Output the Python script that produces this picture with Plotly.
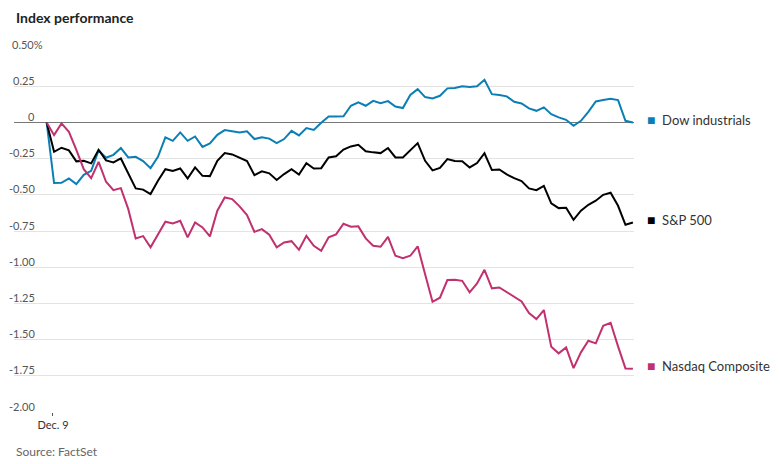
import plotly.graph_objects as go

# ---- data (percent change from previous close, 5-minute steps) ----
steps = list(range(80))

dow = [0.000, -0.419, -0.417, -0.387, -0.426, -0.362, -0.334, -0.193, -0.244, -0.224,
       -0.177, -0.242, -0.238, -0.267, -0.316, -0.238, -0.104, -0.127, -0.069, -0.127,
       -0.097, -0.169, -0.145, -0.086, -0.053, -0.062, -0.070, -0.062, -0.115, -0.102,
       -0.112, -0.143, -0.115, -0.058, -0.090, -0.039, -0.052, -0.003, 0.041, 0.040,
       0.042, 0.115, 0.138, 0.115, 0.149, 0.133, 0.147, 0.110, 0.099, 0.189,
       0.230, 0.175, 0.166, 0.184, 0.235, 0.237, 0.249, 0.244, 0.249, 0.294,
       0.195, 0.189, 0.180, 0.142, 0.131, 0.097, 0.080, 0.104, 0.057, 0.035,
       0.018, -0.023, 0.011, 0.073, 0.145, 0.154, 0.163, 0.154, 0.011, 0.000]

sp500 = [0.000, -0.203, -0.175, -0.193, -0.269, -0.265, -0.283, -0.189, -0.262, -0.276,
         -0.249, -0.350, -0.456, -0.464, -0.495, -0.403, -0.323, -0.336, -0.318, -0.387,
         -0.311, -0.369, -0.371, -0.265, -0.212, -0.221, -0.243, -0.267, -0.364, -0.338,
         -0.352, -0.398, -0.357, -0.323, -0.360, -0.282, -0.318, -0.316, -0.242, -0.234,
         -0.188, -0.166, -0.155, -0.200, -0.207, -0.212, -0.177, -0.242, -0.242, -0.189,
         -0.143, -0.265, -0.331, -0.314, -0.253, -0.267, -0.269, -0.311, -0.281, -0.213,
         -0.329, -0.325, -0.359, -0.385, -0.405, -0.456, -0.468, -0.438, -0.559, -0.592,
         -0.590, -0.673, -0.610, -0.569, -0.541, -0.500, -0.486, -0.576, -0.707, -0.691]

nasdaq = [0.000, -0.088, -0.007, -0.065, -0.189, -0.323, -0.385, -0.272, -0.410, -0.468,
          -0.454, -0.599, -0.801, -0.785, -0.863, -0.771, -0.686, -0.698, -0.680, -0.794,
          -0.691, -0.725, -0.787, -0.610, -0.518, -0.530, -0.580, -0.640, -0.756, -0.737,
          -0.776, -0.863, -0.829, -0.820, -0.880, -0.783, -0.852, -0.887, -0.794, -0.773,
          -0.700, -0.721, -0.718, -0.801, -0.852, -0.859, -0.790, -0.921, -0.937, -0.921,
          -0.856, -1.048, -1.239, -1.211, -1.089, -1.087, -1.094, -1.174, -1.112, -1.018,
          -1.146, -1.140, -1.174, -1.202, -1.236, -1.317, -1.358, -1.296, -1.550, -1.595,
          -1.554, -1.697, -1.588, -1.508, -1.526, -1.405, -1.384, -1.547, -1.699, -1.702]

series_names = ["Dow industrials", "S&P 500", "Nasdaq Composite"]
series_colors = ["#0b7fb5", "#000000", "#c1306f"]

y_tick_vals = [0.5, 0.25, 0, -0.25, -0.5, -0.75, -1.0, -1.25, -1.5, -1.75, -2.0]
y_tick_text = ["0.50%", "0.25", "0", "-0.25", "-0.50", "-0.75", "-1.00", "-1.25",
               "-1.50", "-1.75", "-2.00"]
x_tick_vals = [0.85]
x_tick_text = ["Dec. 9"]

FONT = "Lato, 'Noto Sans', sans-serif"

fig = go.Figure()
for name, vals, col in zip(series_names, [dow, sp500, nasdaq], series_colors):
    fig.add_trace(go.Scatter(x=steps, y=vals, mode="lines", name=name,
                             line=dict(color=col, width=2), hoverinfo="skip"))

# end-of-line labels
for name, vals, col in zip(series_names, [dow, sp500, nasdaq], series_colors):
    fig.add_annotation(x=steps[-1], y=vals[-1], xref="x", yref="y",
                       text=f"<span style='color:{col};font-size:14px'>■</span>&nbsp;&nbsp;{name}",
                       showarrow=False, xanchor="left", yanchor="middle",
                       xshift=12, yshift=3,
                       font=dict(family=FONT, size=13, color="#333333"))

# y tick labels sitting above their gridlines
for v, t in zip(y_tick_vals, y_tick_text):
    fig.add_annotation(x=0.0371, y=v, xref="paper", yref="y", text=t,
                       showarrow=False, xanchor="right", yanchor="middle",
                       xshift=8 if t.endswith("%") else 0, yshift=6,
                       font=dict(family=FONT, size=11, color="#555555"))

fig.add_annotation(text="<b>Index performance</b>", xref="paper", yref="paper",
                   x=0, y=1, xanchor="left", yanchor="middle", yshift=33,
                   showarrow=False, font=dict(family=FONT, size=14, color="#222222"))
fig.add_annotation(text="Source: FactSet", xref="paper", yref="paper",
                   x=0, y=0, xanchor="left", yanchor="middle", yshift=-39,
                   showarrow=False, font=dict(family=FONT, size=12, color="#666666"))

fig.update_layout(
    width=782, height=464,
    margin=dict(l=14, r=148, t=50, b=52),
    paper_bgcolor="white", plot_bgcolor="white",
    showlegend=False,
    font=dict(family=FONT, color="#333333"),
    xaxis=dict(range=[-4.4, 79.15], showgrid=False, zeroline=False, showline=False,
               tickvals=x_tick_vals, ticktext=x_tick_text, ticks="outside",
               ticklen=3, tickwidth=1, tickcolor="#555555",
               tickfont=dict(family=FONT, size=11, color="#333333")),
    yaxis=dict(range=[-2.0, 0.5], tickvals=y_tick_vals, showticklabels=False,
               showgrid=True, gridcolor="#e3e3e3", gridwidth=1,
               zeroline=True, zerolinecolor="#777777", zerolinewidth=1,
               showline=False, ticks=""),
)

fig.write_html("out.html",
               config={"displayModeBar": False, "staticPlot": True},
               post_script="document.body.style.margin='0';document.body.style.padding='0';")
